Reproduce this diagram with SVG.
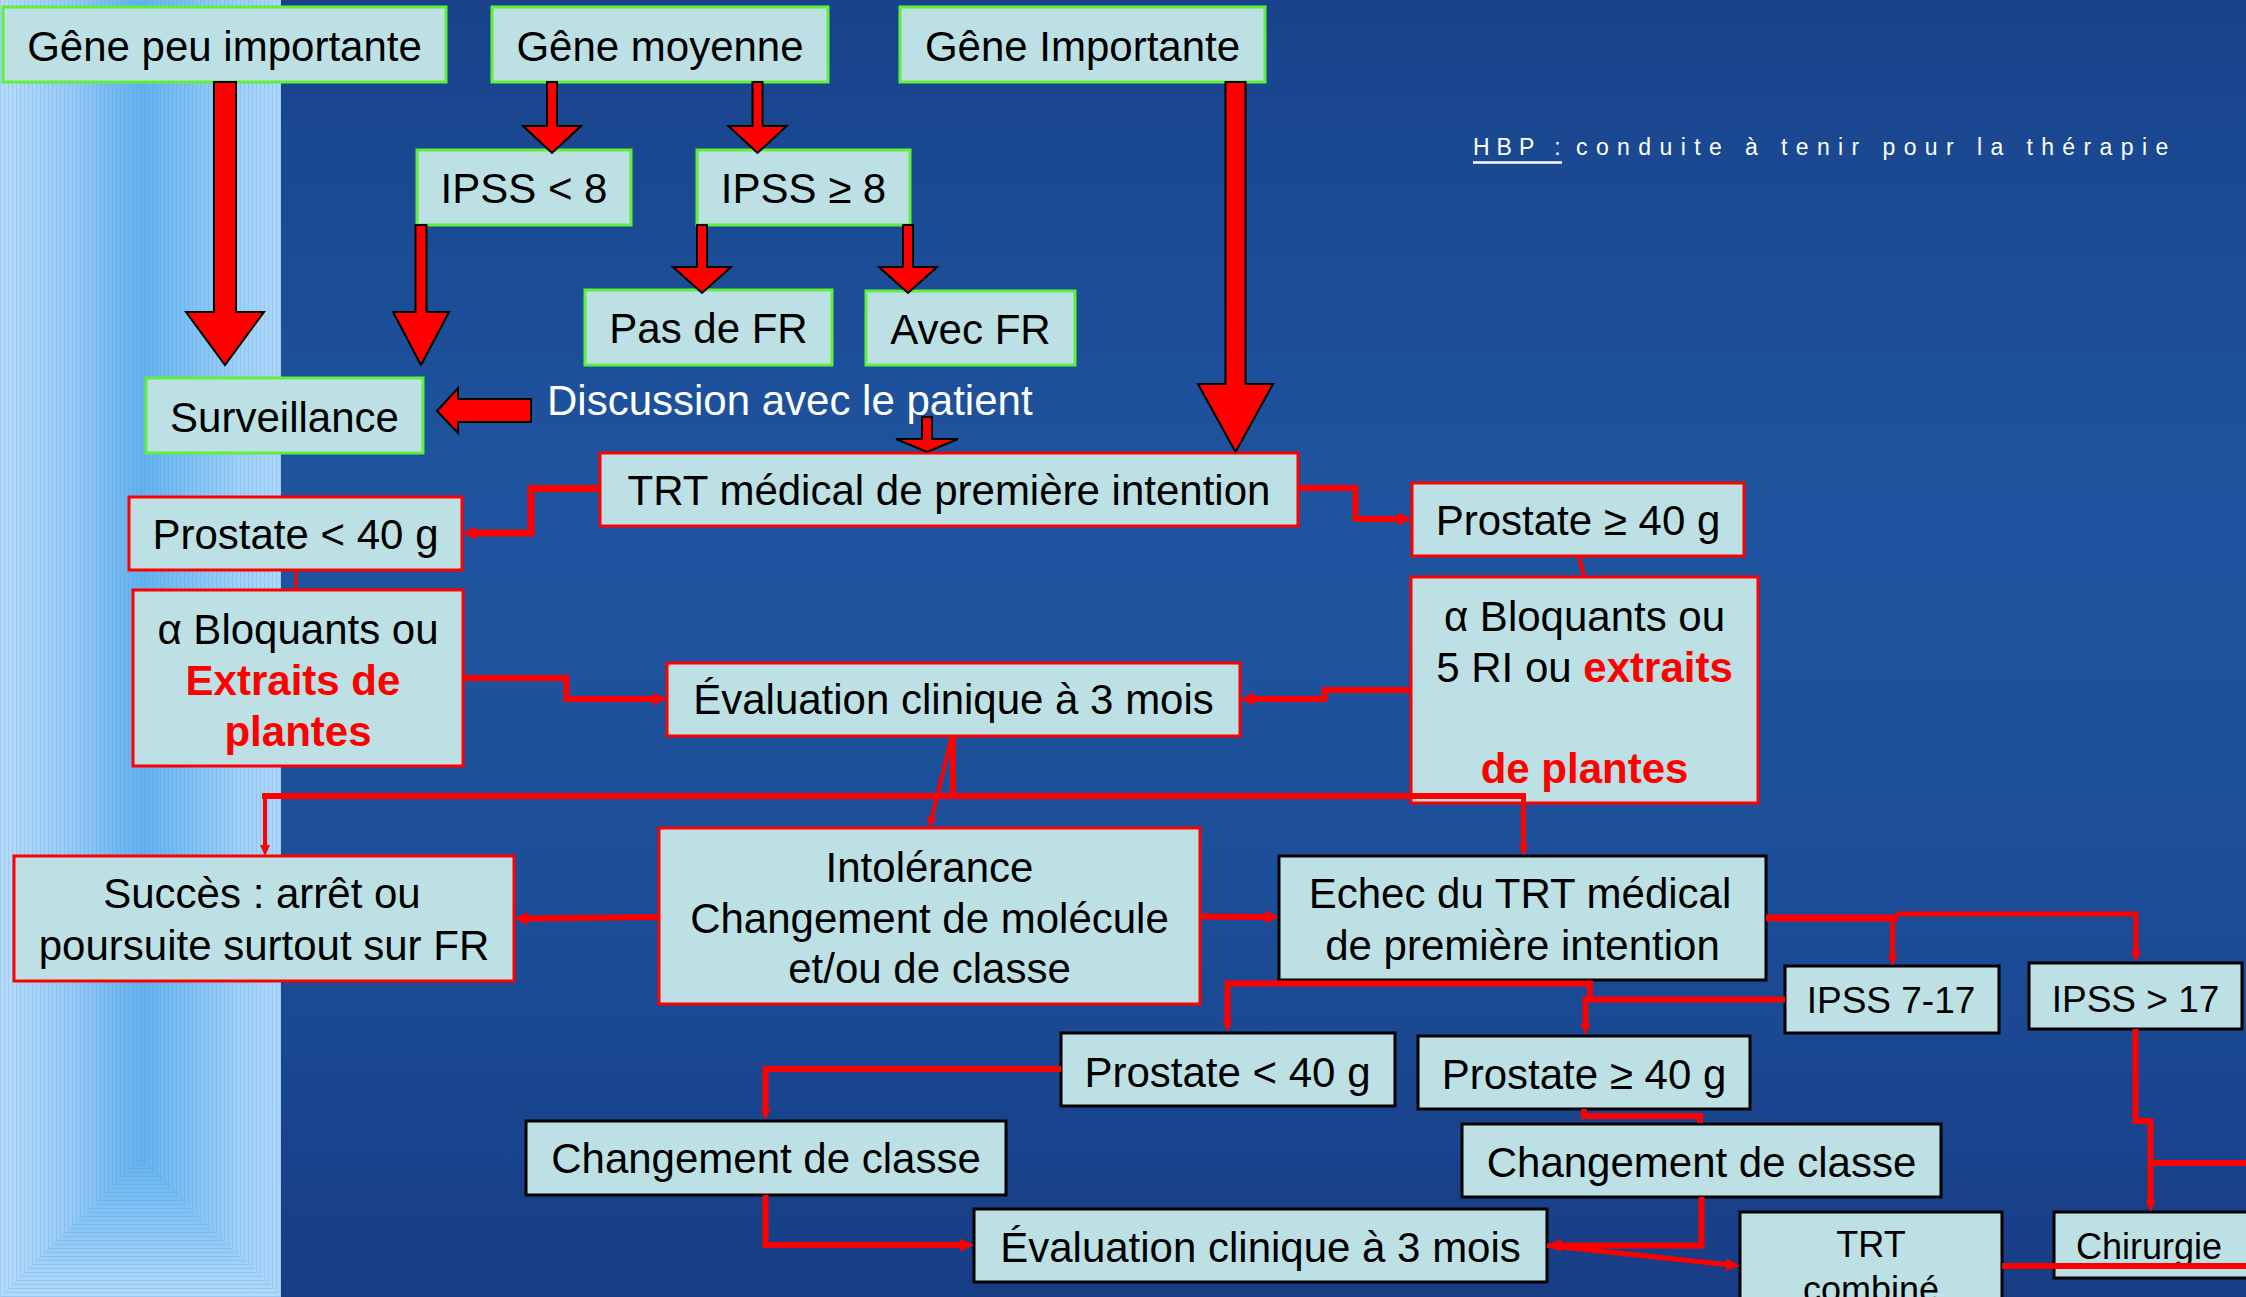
<svg xmlns="http://www.w3.org/2000/svg" width="2246" height="1297" viewBox="0 0 2246 1297">
<defs>
<linearGradient id="bg" x1="0" y1="0" x2="0" y2="1">
<stop offset="0" stop-color="#18438b"/>
<stop offset="0.4" stop-color="#1f55a0"/>
<stop offset="0.7" stop-color="#1c4d98"/>
<stop offset="1" stop-color="#173d85"/>
</linearGradient>
<linearGradient id="stripe" x1="0" y1="0" x2="1" y2="0">
<stop offset="0" stop-color="#b6dcfb"/>
<stop offset="0.25" stop-color="#97caf5"/>
<stop offset="0.5" stop-color="#63b1ee"/>
<stop offset="0.6" stop-color="#72baf1"/>
<stop offset="0.85" stop-color="#9fd0f7"/>
<stop offset="1" stop-color="#aed7fa"/>
</linearGradient>
<linearGradient id="pyr" x1="0" y1="0" x2="0" y2="1">
<stop offset="0" stop-color="#66b3ee"/>
<stop offset="1" stop-color="#b3dafb"/>
</linearGradient>
<pattern id="vl" width="4" height="10" patternUnits="userSpaceOnUse">
<rect x="0" y="0" width="1" height="10" fill="#3f8fd6" opacity="0.18"/>
</pattern>
<pattern id="hl" width="10" height="4" patternUnits="userSpaceOnUse">
<rect x="0" y="0" width="10" height="1" fill="#3f8fd6" opacity="0.25"/>
</pattern>
<marker id="mA" viewBox="0 0 14 13" markerWidth="14" markerHeight="13" refX="0" refY="6.5" orient="auto" markerUnits="userSpaceOnUse">
<path d="M0,0 L14,6.5 L0,13 Z" fill="#ff0000"/>
</marker>
<marker id="mS" viewBox="0 0 11 10" markerWidth="11" markerHeight="10" refX="0" refY="5" orient="auto" markerUnits="userSpaceOnUse">
<path d="M0,0 L11,5 L0,10 Z" fill="#ff0000"/>
</marker>
<style>
.box{fill:#bce0e3;stroke-width:3}
.g{stroke:#5ff03a}
.r{stroke:#ff0000}
.k{stroke:#000000}
.t{font-family:"Liberation Sans",Arial,Helvetica,sans-serif;font-size:42px;fill:#000;text-anchor:middle}
.s37{font-size:37px}
.s36{font-size:36px}
.rb{fill:#ff0000;font-weight:bold}
.w{fill:#ffffff;text-anchor:start}
.c{fill:none;stroke:#ff0000;stroke-linejoin:miter;stroke-linecap:butt}
.blk{fill:#ff0000;stroke:#000;stroke-width:2;stroke-linejoin:miter}
</style>
</defs>

<g id="background">
<rect x="0" y="0" width="2246" height="1297" fill="url(#bg)"/>
<rect x="0" y="0" width="281" height="1297" fill="url(#stripe)"/>
<rect x="0" y="0" width="281" height="1297" fill="url(#vl)"/>
<polygon points="140,1160 281,1297 0,1297" fill="url(#pyr)"/>
<polygon points="140,1160 281,1297 0,1297" fill="url(#hl)"/>
</g>

<g id="title">
<text x="1473" y="154.5" font-family="Liberation Sans, Arial, sans-serif" font-size="23" fill="#ffffff" letter-spacing="7">HBP :</text>
<line x1="1473" y1="162.5" x2="1562" y2="162.5" stroke="#ffffff" stroke-width="2.5"/>
<text x="1576" y="154.5" font-family="Liberation Sans, Arial, sans-serif" font-size="23" fill="#ffffff" letter-spacing="8.4">conduite à tenir pour la thérapie</text>
</g>

<g id="nodes">
<g id="gene-peu"><rect class="box g" x="3" y="7" width="443" height="75"/><text class="t" x="224.5" y="61">Gêne peu importante</text></g>
<g id="gene-moyenne"><rect class="box g" x="492" y="7" width="336" height="75"/><text class="t" x="660" y="61">Gêne moyenne</text></g>
<g id="gene-importante"><rect class="box g" x="900" y="7" width="365" height="75"/><text class="t" x="1082.5" y="61">Gêne Importante</text></g>
<g id="ipss-lt8"><rect class="box g" x="417" y="150" width="214" height="75"/><text class="t" x="524" y="203">IPSS &lt; 8</text></g>
<g id="ipss-ge8"><rect class="box g" x="697" y="150" width="213" height="75"/><text class="t" x="803.5" y="203">IPSS ≥ 8</text></g>
<g id="pas-de-fr"><rect class="box g" x="585" y="290" width="247" height="75"/><text class="t" x="708.5" y="343">Pas de FR</text></g>
<g id="avec-fr"><rect class="box g" x="866" y="291" width="209" height="74"/><text class="t" x="970.5" y="343.5">Avec FR</text></g>
<g id="surveillance"><rect class="box g" x="146" y="378" width="277" height="75"/><text class="t" x="284.5" y="431.5">Surveillance</text></g>
<g id="discussion"><text class="t w" x="547" y="415">Discussion avec le patient</text></g>
<g id="trt-medical"><rect class="box r" x="600" y="453" width="698" height="73"/><text class="t" x="949" y="505">TRT médical de première intention</text></g>
<g id="prostate-lt40-a"><rect class="box r" x="129" y="497" width="333" height="73"/><text class="t" x="295.5" y="549">Prostate &lt; 40 g</text></g>
<g id="alpha-left"><rect class="box r" x="133" y="590" width="330" height="176"/>
<text class="t" x="298" y="644">α Bloquants ou</text>
<text class="t rb" x="293" y="695">Extraits de</text>
<text class="t rb" x="298" y="746">plantes</text></g>
<g id="evaluation-a"><rect class="box r" x="667" y="663" width="573" height="73"/><text class="t" x="953.5" y="714">Évaluation clinique à 3 mois</text></g>
<g id="prostate-ge40-a"><rect class="box r" x="1412" y="483" width="332" height="73"/><text class="t" x="1578" y="535">Prostate ≥ 40 g</text></g>
<g id="alpha-right"><rect class="box r" x="1411" y="577" width="347" height="226"/>
<text class="t" x="1584.5" y="631">α Bloquants ou</text>
<text class="t" x="1584.5" y="682">5 RI ou <tspan class="rb">extraits</tspan></text>
<text class="t rb" x="1584.5" y="783">de plantes</text></g>
<g id="succes"><rect class="box r" x="14" y="856" width="500" height="125"/>
<text class="t" x="262" y="908">Succès : arrêt ou</text>
<text class="t" x="264" y="960">poursuite surtout sur FR</text></g>
<g id="intolerance"><rect class="box r" x="659" y="828" width="541" height="176"/>
<text class="t" x="929.5" y="882">Intolérance</text>
<text class="t" x="929.5" y="933">Changement de molécule</text>
<text class="t" x="929.5" y="983">et/ou de classe</text></g>
<g id="echec"><rect class="box k" x="1279" y="856" width="487" height="124"/>
<text class="t" x="1520" y="908">Echec du TRT médical</text>
<text class="t" x="1522.5" y="960">de première intention</text></g>
<g id="ipss-7-17"><rect class="box k" x="1785" y="966" width="214" height="67"/><text class="t s37" x="1891" y="1013">IPSS 7-17</text></g>
<g id="ipss-gt17"><rect class="box k" x="2029" y="963" width="213" height="66"/><text class="t s37" x="2135.5" y="1012">IPSS &gt; 17</text></g>
<g id="prostate-lt40-b"><rect class="box k" x="1061" y="1033" width="334" height="73"/><text class="t" x="1227.5" y="1087">Prostate &lt; 40 g</text></g>
<g id="prostate-ge40-b"><rect class="box k" x="1418" y="1036" width="332" height="73"/><text class="t" x="1584" y="1089">Prostate ≥ 40 g</text></g>
<g id="changement-a"><rect class="box k" x="526" y="1121" width="480" height="74"/><text class="t" x="766" y="1173">Changement de classe</text></g>
<g id="changement-b"><rect class="box k" x="1462" y="1124" width="479" height="73"/><text class="t" x="1701.5" y="1177">Changement de classe</text></g>
<g id="evaluation-b"><rect class="box k" x="974" y="1209" width="573" height="73"/><text class="t" x="1260.5" y="1262">Évaluation clinique à 3 mois</text></g>
<g id="trt-combine"><rect class="box k" x="1740" y="1212" width="262" height="110"/>
<text class="t s36" x="1871" y="1257">TRT</text>
<text class="t s36" x="1871" y="1302">combiné</text></g>
<g id="chirurgie"><rect class="box k" x="2054" y="1212" width="220" height="66"/><text class="t s36" x="2076" y="1259" text-anchor="start" style="text-anchor:start">Chirurgie</text></g>
</g>

<g id="connectors">
<g id="block-arrows">
<polygon class="blk" points="214,82 236,82 236,312 264,312 225,365 186,312 214,312"/>
<polygon class="blk" points="415.5,225 426.5,225 426.5,312 449,312 421,365 393,312 415.5,312"/>
<polygon class="blk" points="547,82 557,82 557,126 581,126 552,153 523,126 547,126"/>
<polygon class="blk" points="752.5,82 762.5,82 762.5,126 786.5,126 757.5,153 728.5,126 752.5,126"/>
<polygon class="blk" points="697,225 707,225 707,267 731,267 702,293 673,267 697,267"/>
<polygon class="blk" points="903,225 913,225 913,267 937,267 908,293 879,267 903,267"/>
<polygon class="blk" points="1225.5,82 1245.5,82 1245.5,384 1273,384 1235.5,452 1198,384 1225.5,384"/>
<polygon class="blk" points="922,417 932,417 932,439 958,439 927,452 896,439 922,439"/>
<polygon class="blk" points="531,399 531,422 458,422 458,433 437,411 458,388 458,399"/>
</g>
<path class="c" stroke-width="7" d="M600,488.5 H531 V533 H476" marker-end="url(#mA)"/>
<path class="c" stroke-width="6" d="M1298,488 H1355.5 V519 H1398" marker-end="url(#mA)"/>
<path class="c" stroke-width="3" d="M296,570 V590"/>
<path class="c" stroke-width="4" d="M1579,556 L1584,577"/>
<path class="c" stroke-width="6" d="M463,678 H566.5 V699 H653" marker-end="url(#mA)"/>
<path class="c" stroke-width="6" d="M1411,690 H1324.5 V699 H1254" marker-end="url(#mA)"/>
<path class="c" stroke-width="6" d="M953,736 V796"/>
<path class="c" stroke-width="6" d="M262,796 H1526"/>
<path class="c" stroke-width="4" d="M265,796 V845" marker-end="url(#mS)"/>
<path class="c" stroke-width="5" d="M1523.5,796 V845" marker-end="url(#mS)"/>
<path class="c" stroke-width="4" d="M952,736 L932,817" marker-end="url(#mS)"/>
<path class="c" stroke-width="6" d="M659,917 L528,918.5" marker-end="url(#mA)"/>
<path class="c" stroke-width="6" d="M1200,916.5 L1265,917" marker-end="url(#mA)"/>
<path class="c" stroke-width="7" d="M1766,918 H1898"/>
<path class="c" stroke-width="5" d="M1896,914 H2136 V951" marker-end="url(#mS)"/>
<path class="c" stroke-width="5" d="M1892.5,916 V955" marker-end="url(#mS)"/>
<path class="c" stroke-width="6" d="M1785,999.5 H1585.5 V1024" marker-end="url(#mS)"/>
<path class="c" stroke-width="6" d="M1590,1002 V983.5 H1227.5 V1021" marker-end="url(#mS)"/>
<path class="c" stroke-width="6" d="M1061,1069 H765.5 V1109" marker-end="url(#mS)"/>
<path class="c" stroke-width="6" d="M765.5,1195 V1245 H960" marker-end="url(#mA)"/>
<path class="c" stroke-width="6" d="M1584,1109 V1116 H1700 V1123"/>
<path class="c" stroke-width="6" d="M1701.5,1197 V1245.5 H1561" marker-end="url(#mA)"/>
<path class="c" stroke-width="5" d="M1547,1245.5 L1726,1264.5" marker-end="url(#mA)"/>
<path class="c" stroke-width="6" d="M2135.5,1029 V1121 H2150.5 V1201" marker-end="url(#mS)"/>
<path class="c" stroke-width="6" d="M2150.5,1163 H2246"/>
<path class="c" stroke-width="6" d="M2002,1266 H2246"/>
</g>
</svg>
